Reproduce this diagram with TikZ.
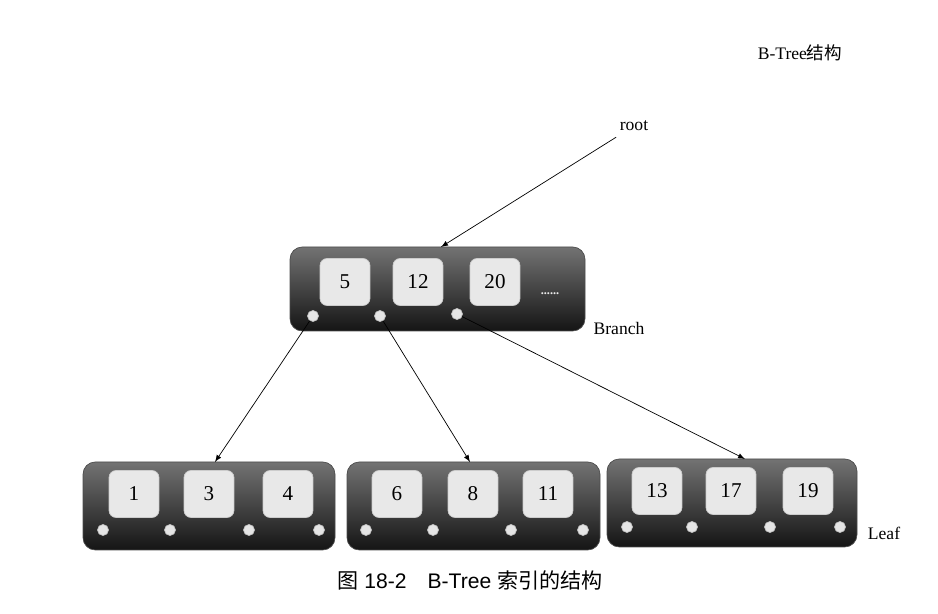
\documentclass[tikz,border=0pt]{standalone}
\usepackage{fontspec}
\setmainfont{Liberation Serif}
\setsansfont{Liberation Sans}
\newfontfamily\cjk{Noto Sans CJK SC}
\usepackage{tikz}
\usetikzlibrary{positioning}

\tikzset{
  pagebox/.style={rounded corners=7pt, top color=black!55, bottom color=black!92, draw=gray!60!black},
  keybox/.style={rounded corners=4pt, fill=gray!18, draw=gray!40, minimum width=1.0cm, minimum height=0.94cm, font=\large},
  ptr/.style={circle, fill=gray!20, draw=gray!50, inner sep=0pt, minimum size=0.22cm},
  link/.style={-latex, thin}
}

\begin{document}
\begin{tikzpicture}[x=0.02cm, y=-0.02cm]
  \useasboundingbox (0,0) rectangle (938,614);

  % 标题
  \node (title) at (800,53) {B-Tree{\cjk 结构}};
  \node (root) at (634,126) {root};

  % Branch 页
  \draw[pagebox] (290,247) rectangle (585,331);
  \node[keybox] (k5) at (345,282) {5};
  \node[keybox] (k12) at (418,282) {12};
  \node[keybox] (k20) at (495,282) {20};
  \node[text=gray!15, font=\scriptsize\bfseries] (more) at (550,294) {......};
  \node[ptr] (p1) at (313,316) {};
  \node[ptr] (p2) at (380,316) {};
  \node[ptr] (p3) at (457,314) {};
  \node (branch) at (619,328) {Branch};

  % Leaf 页
  \draw[pagebox] (83,462) rectangle (335,550);
  \node[keybox] (k1) at (134,494) {1};
  \node[keybox] (k3) at (209,494) {3};
  \node[keybox] (k4) at (288,494) {4};
  \node[ptr] at (103,530) {};
  \node[ptr] at (170,530) {};
  \node[ptr] at (249,530) {};
  \node[ptr] at (319,530) {};
  \coordinate (leafa) at (215,462);

  \draw[pagebox] (347,462) rectangle (600,550);
  \node[keybox] (k6) at (397,494) {6};
  \node[keybox] (k8) at (473,494) {8};
  \node[keybox] (k11) at (548,494) {11};
  \node[ptr] at (366,530) {};
  \node[ptr] at (433,530) {};
  \node[ptr] at (511,530) {};
  \node[ptr] at (583,530) {};
  \coordinate (leafb) at (470,462);

  \draw[pagebox] (607,459) rectangle (857,547);
  \node[keybox] (k13) at (657,491) {13};
  \node[keybox] (k17) at (731,491) {17};
  \node[keybox] (k19) at (808,491) {19};
  \node[ptr] at (627,527) {};
  \node[ptr] at (692,527) {};
  \node[ptr] at (770,527) {};
  \node[ptr] at (840,527) {};
  \coordinate (leafc) at (745,459);
  \node (leaf) at (884,533) {Leaf};

  % 指针
  \coordinate (branchtop) at (441,247);
  \draw[link] (root) -- (branchtop);
  \draw[link] (p1) -- (leafa);
  \draw[link] (p2) -- (leafb);
  \draw[link] (p3) -- (leafc);

  % 图题
  \node[font=\sffamily\large] (caption) at (470,580) {{\cjk 图} 18-2\quad B-Tree {\cjk 索引的结构}};
\end{tikzpicture}
\end{document}
